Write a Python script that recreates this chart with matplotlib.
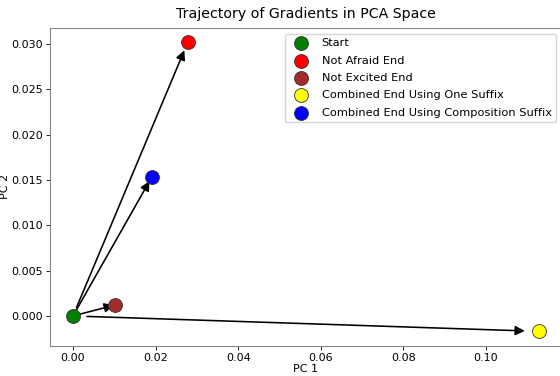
import matplotlib.pyplot as plt

labels = ['Start', 'Not Afraid End', 'Not Excited End',
          'Combined End Using One Suffix', 'Combined End Using Composition Suffix']
colors = ['green', 'red', 'brown', 'yellow', 'blue']
pc1 = [0.0, 0.0278, 0.0102, 0.1128, 0.0191]
pc2 = [0.0, 0.0302, 0.00121, -0.0017, 0.01533]

fig = plt.figure(figsize=(5.6, 3.76), dpi=100)
ax = fig.add_axes([0.0884, 0.0806, 0.915, 0.845])

for x, y, c, lab in zip(pc1, pc2, colors, labels):
    ax.scatter(x, y, s=100, color=c, edgecolors='#333333', linewidths=0.6, label=lab, zorder=3)

# arrows from start to each end point, trimmed 3% at each end
x0, y0 = pc1[0], pc2[0]
for x, y in zip(pc1[1:], pc2[1:]):
    dx, dy = x - x0, y - y0
    ax.annotate('', xy=(x0 + 0.97 * dx, y0 + 0.97 * dy),
                xytext=(x0 + 0.03 * dx, y0 + 0.03 * dy),
                arrowprops=dict(arrowstyle='-|>', color='black', lw=1.15,
                                mutation_scale=14, shrinkA=0, shrinkB=0), zorder=2)

ax.set_xlim(-0.00569, 0.1184)
ax.set_ylim(-0.00328, 0.03176)
ax.set_xticks([0.0, 0.02, 0.04, 0.06, 0.08, 0.10])
ax.set_xticklabels(['0.00', '0.02', '0.04', '0.06', '0.08', '0.10'])
ax.set_yticks([0.0, 0.005, 0.01, 0.015, 0.02, 0.025, 0.03])
ax.set_yticklabels(['0.000', '0.005', '0.010', '0.015', '0.020', '0.025', '0.030'])
ax.tick_params(labelsize=8, length=3, width=0.6, pad=2)
for sp in ax.spines.values():
    sp.set_color('#888888')
    sp.set_linewidth(0.8)

ax.set_xlabel('PC 1', fontsize=8, labelpad=1)
ax.set_ylabel('PC 2', fontsize=8, labelpad=0.5)
ax.set_title('Trajectory of Gradients in PCA Space', fontsize=10.2, pad=7)
ax.legend(loc='upper right', fontsize=8.2, frameon=True, borderaxespad=0.5,
          handletextpad=0.85, labelspacing=0.65)

fig.savefig('out.png', dpi=100)
